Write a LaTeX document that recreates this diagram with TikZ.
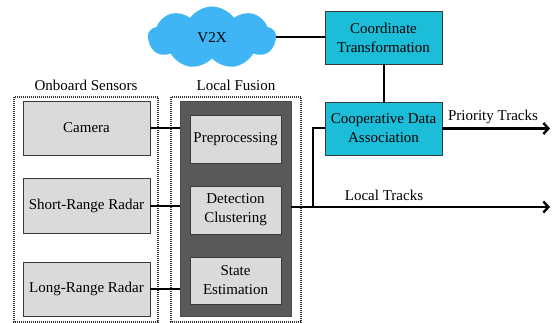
\documentclass[tikz,border=0pt]{standalone}
\usepackage{fontspec}
\setmainfont{Liberation Serif}
\usetikzlibrary{shapes.symbols,arrows.meta}
\definecolor{cloudblue}{HTML}{3FB5F6}
\definecolor{boxcyan}{HTML}{1BBDD9}
\definecolor{boxgray}{HTML}{DADADA}
\definecolor{darkfill}{HTML}{595959}
\definecolor{edgegray}{HTML}{3A3A3A}
\begin{document}
\begin{tikzpicture}[x=1pt,y=-1pt,
  every node/.style={font=\fontsize{15}{19}\selectfont, inner sep=0pt, align=center},
  graybox/.style={draw=edgegray, line width=0.8pt, fill=boxgray},
  cyanbox/.style={draw=edgegray, line width=0.8pt, fill=boxcyan},
  groupbox/.style={draw=black!80, line width=1.1pt, dash pattern=on 1pt off 1pt},
  conn/.style={line width=2pt, black},
  outarrow/.style={line width=2.6pt, black, -{Straight Barb[length=5pt,width=11pt,line width=2.4pt]}}
]
\useasboundingbox (0,0) rectangle (553,323);
% group boxes
\draw[groupbox] (14,97) rectangle (158,322);
\draw[groupbox] (171,97) rectangle (301,322);
\node (lblOn) at (86,85) {Onboard Sensors};
\node (lblLF) at (236,85) {Local Fusion};
% dark fusion box
\node[draw=black!70, line width=0.8pt, fill=darkfill, minimum width=111pt, minimum height=215pt] (dark) at (235.5,208.5) {};
% sensors
\node[graybox, minimum width=127pt, minimum height=54pt] (cam) at (86.5,128) {Camera};
\node[graybox, minimum width=127pt, minimum height=55pt] (srr) at (86.5,205.5) {Short-Range Radar};
\node[graybox, minimum width=127pt, minimum height=54pt] (lrr) at (86.5,289) {Long-Range Radar};
% fusion steps
\node[graybox, minimum width=91pt, minimum height=48pt] (pre) at (235.5,139) {Preprocessing};
\node[graybox, minimum width=91pt, minimum height=48pt] (det) at (235.5,210) {Detection\\Clustering};
\node[graybox, minimum width=91pt, minimum height=47pt] (est) at (235.5,280.5) {State\\Estimation};
% cloud and cooperative boxes
\node[cloud, cloud puffs=9, cloud puff arc=110, aspect=2.1, fill=cloudblue, draw=none, minimum width=128pt, minimum height=62pt] (v2x) at (212,37.5) {V2X};
\node[cyanbox, minimum width=117pt, minimum height=53pt] (ct) at (383.5,37.5) {Coordinate\\Transformation};
\node[cyanbox, minimum width=117pt, minimum height=53pt] (cda) at (383.5,128.5) {Cooperative Data\\Association};
% connectors
\draw[conn] (v2x.east |- ct.west) -- (ct.west);
\draw[conn] (ct.south) -- (cda.north);
\draw[conn] (cam.east) -- (cam.east -| dark.west);
\draw[conn] (srr.east) -- (srr.east -| dark.west);
\draw[conn] (lrr.east) -- (lrr.east -| dark.west);
\coordinate (ltend) at (550,207);
\coordinate (ptend) at (550,128.5);
\coordinate (br) at (313,207);
\draw[outarrow] (ltend -| dark.east) -- (ltend);
\draw[conn] (br) |- (cda.west);
\draw[outarrow] (cda.east) -- (ptend);
\node (lblPT) at (493,117) {Priority Tracks};
\node (lblLT) at (384,195) {Local Tracks};
\end{tikzpicture}
\end{document}
